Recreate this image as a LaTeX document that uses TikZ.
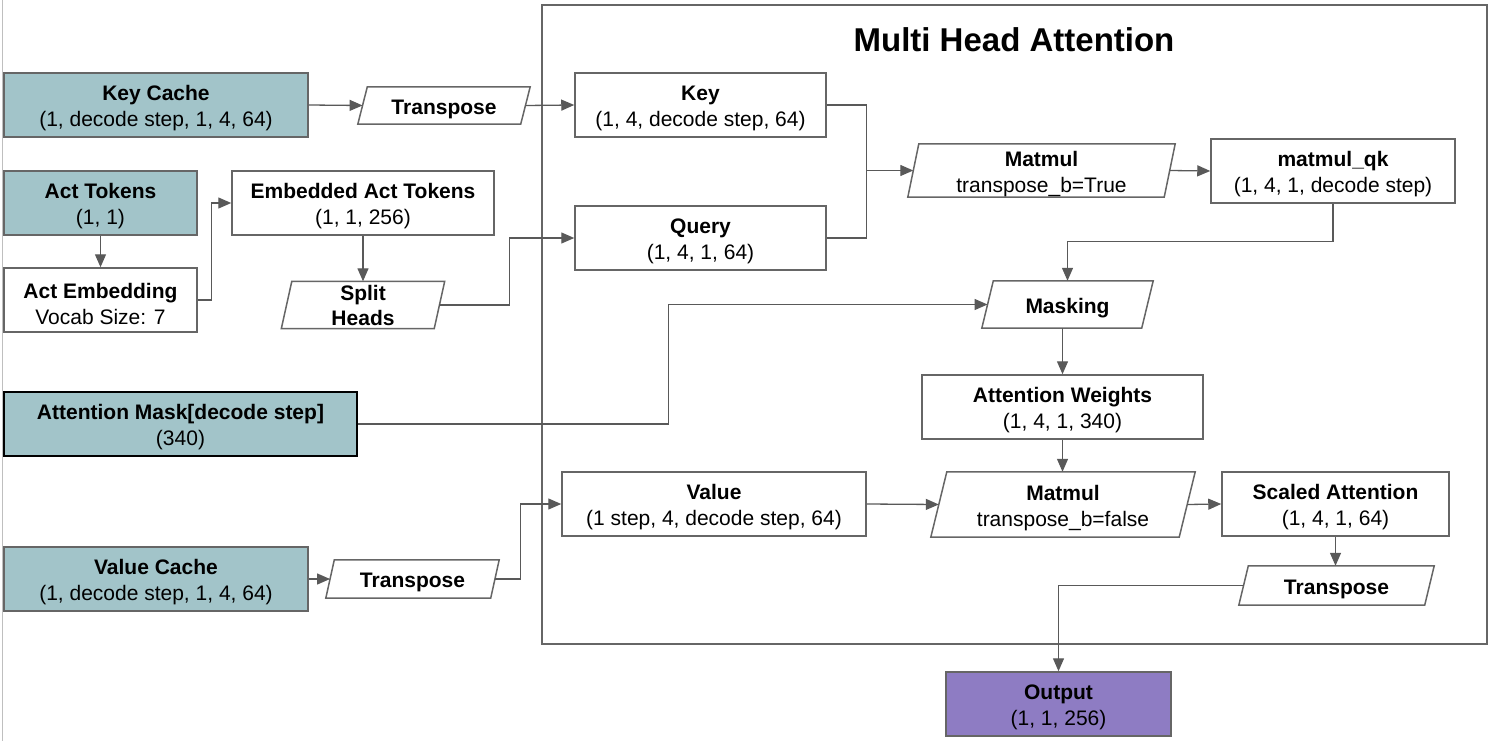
\documentclass[tikz,border=0pt]{standalone}
\usepackage{fontspec}
\setmainfont{Liberation Sans}
\usetikzlibrary{arrows.meta}
\definecolor{cachefill}{HTML}{A2C4C9}
\definecolor{outfill}{HTML}{8E7CC3}
\definecolor{edgecol}{HTML}{595959}
\definecolor{bordcol}{HTML}{666666}
\newcommand{\drawpara}[2]{%
  \draw[bordcol, line width=1.5pt, fill=white] ([xshift=#2pt]#1.north west) -- (#1.north east) -- ([xshift=-#2pt]#1.south east) -- (#1.south west) -- cycle;}
% #1 name, #2 style, #3 position, #4 width, #5 height, #6 text
\newcommand{\mkbox}[6]{%
  \node[#2, minimum width=#4pt, minimum height=#5pt] (#1) at #3 {};
  \node[boxtext] (#1t) at ([yshift=-3.5pt]#1.center) {#6};}
\begin{document}
\begin{tikzpicture}[x=1pt,y=-1pt,
  box/.style={draw=bordcol, line width=1.5pt, fill=white, inner sep=0pt},
  cache/.style={box, fill=cachefill},
  frame/.style={inner sep=0pt},
  boxtext/.style={inner sep=0pt, align=center, font=\fontsize{21}{26}\selectfont},
  conn/.style={draw=edgecol, line width=1.3pt, -{Triangle[length=13pt,width=11pt]}},
  plain/.style={draw=edgecol, line width=1.3pt},
]
\useasboundingbox (0,0) rectangle (1493,741);
\draw[black!25, line width=1pt] (2,0) -- (2,741);

% container
\node[draw=bordcol, line width=1.5pt, minimum width=945pt, minimum height=639pt, inner sep=0pt] (mha) at (1014.5,324.5) {};
\node[font=\fontsize{33}{40}\selectfont\bfseries] (title) at (1014,40) {Multi Head Attention};

% left inputs
\mkbox{keycache}{cache}{(156,105)}{304}{64}{\textbf{Key Cache}\\(1, decode step, 1, 4, 64)}
\mkbox{acttok}{cache}{(100.5,203)}{193}{64}{\textbf{Act Tokens}\\(1, 1)}
\mkbox{actemb}{box}{(100.5,300)}{193}{64}{\textbf{Act Embedding}\\Vocab Size: 7}
\mkbox{embed}{box}{(363,203)}{262}{64}{\textbf{Embedded Act Tokens}\\(1, 1, 256)}
\mkbox{attmask}{cache, draw=black}{(180.5,424)}{353}{64}{\textbf{Attention Mask[decode step]}\\(340)}
\mkbox{valcache}{cache}{(156,579)}{304}{64}{\textbf{Value Cache}\\(1, decode step, 1, 4, 64)}

% parallelogram frames
\node[frame, minimum width=172pt, minimum height=37pt] (tr1) at (444,105.5) {};
\node[frame, minimum width=163pt, minimum height=47pt] (split) at (363,305) {};
\node[frame, minimum width=173pt, minimum height=38pt] (tr2) at (412.5,579) {};
\node[frame, minimum width=267pt, minimum height=53pt] (matmul1) at (1041.5,170.5) {};
\node[frame, minimum width=171pt, minimum height=47pt] (masking) at (1067.5,304.5) {};
\node[frame, minimum width=264pt, minimum height=65pt] (matmul2) at (1063,504.5) {};
\node[frame, minimum width=195pt, minimum height=39pt] (tr3) at (1336.5,585.5) {};
\drawpara{tr1}{9.5}
\drawpara{split}{10.5}
\drawpara{tr2}{8.5}
\drawpara{matmul1}{11}
\drawpara{masking}{11.5}
\drawpara{matmul2}{16}
\drawpara{tr3}{9.5}
\node[boxtext] (tr1t) at ([yshift=-3.5pt]tr1.center) {\textbf{Transpose}};
\node[boxtext, font=\fontsize{21}{25}\selectfont] (splitt) at ([yshift=-0.5pt]split.center) {\textbf{Split}\\\textbf{Heads}};
\node[boxtext] (tr2t) at ([yshift=-3.5pt]tr2.center) {\textbf{Transpose}};
\node[boxtext] (matmul1t) at ([yshift=-3.5pt]matmul1.center) {\textbf{Matmul}\\transpose\_b=True};
\node[boxtext] (maskingt) at ([yshift=-3.5pt]masking.center) {\textbf{Masking}};
\node[boxtext] (matmul2t) at ([yshift=-3.5pt]matmul2.center) {\textbf{Matmul}\\transpose\_b=false};
\node[boxtext] (tr3t) at ([yshift=-3.5pt]tr3.center) {\textbf{Transpose}};

% inner boxes
\mkbox{key}{box}{(700.5,105)}{251}{64}{\textbf{Key}\\(1, 4, decode step, 64)}
\mkbox{query}{box}{(700.5,238)}{251}{64}{\textbf{Query}\\(1, 4, 1, 64)}
\mkbox{qk}{box}{(1333,171)}{244}{64}{\textbf{matmul\_qk}\\(1, 4, 1, decode step)}
\mkbox{attw}{box}{(1062.5,407)}{281}{64}{\textbf{Attention Weights}\\(1, 4, 1, 340)}
\mkbox{value}{box}{(714,504)}{304}{64}{\textbf{Value}\\(1 step, 4, decode step, 64)}
\mkbox{scaled}{box}{(1335.5,504)}{227}{64}{\textbf{Scaled Attention}\\(1, 4, 1, 64)}
\mkbox{output}{box, fill=outfill}{(1058.5,704)}{225}{64}{\textbf{Output}\\(1, 1, 256)}

% connector anchor points on parallelogram sides
\coordinate (tr1L) at ([xshift=4.75pt]tr1.west);
\coordinate (tr1R) at ([xshift=-4.75pt]tr1.east);
\coordinate (splitR) at ([xshift=-5.25pt]split.east);
\coordinate (tr2L) at ([xshift=4.25pt]tr2.west);
\coordinate (tr2R) at ([xshift=-4.25pt]tr2.east);
\coordinate (m1L) at ([xshift=5.5pt]matmul1.west);
\coordinate (m1R) at ([xshift=-5.5pt]matmul1.east);
\coordinate (mkL) at ([xshift=5.75pt]masking.west);
\coordinate (m2L) at ([xshift=8pt]matmul2.west);
\coordinate (m2R) at ([xshift=-8pt]matmul2.east);
\coordinate (tr3L) at ([xshift=4.75pt]tr3.west);
\coordinate (kqj) at ([xshift=-46.5pt]m1L);

% connectors
\draw[conn] (keycache.east) -- (tr1L);
\draw[conn] (tr1R) -- (key.west);
\draw[conn] (acttok.south) -- (actemb.north);
\draw[conn] (actemb.east) -- ++(14,0) |- (embed.west);
\draw[conn] (embed.south) -- (split.north);
\draw[conn] (splitR) -| ([xshift=-65pt]query.west) -- (query.west);
\draw[plain] (key.east) -| (kqj);
\draw[plain] (query.east) -| (kqj);
\draw[conn] (kqj) -- (m1L);
\draw[conn] (m1R) -- (qk.west);
\draw[conn] (qk.south) -- ++(0,38) -| (masking.north);
\draw[conn] (attmask.east) -| ([xshift=-318.75pt]mkL) -- (mkL);
\draw[conn] (attw.north |- masking.south) -- (attw.north);
\draw[conn] (attw.south) -- (attw.south |- matmul2.north);
\draw[conn] (valcache.east) -- (tr2L);
\draw[conn] (tr2R) -| ([xshift=-41pt]value.west) -- (value.west);
\draw[conn] (value.east) -- (m2L);
\draw[conn] (m2R) -- (scaled.west);
\draw[conn] (scaled.south) -- (scaled.south |- tr3.north);
\draw[conn] (tr3L) -| (output.north);
\end{tikzpicture}
\end{document}
